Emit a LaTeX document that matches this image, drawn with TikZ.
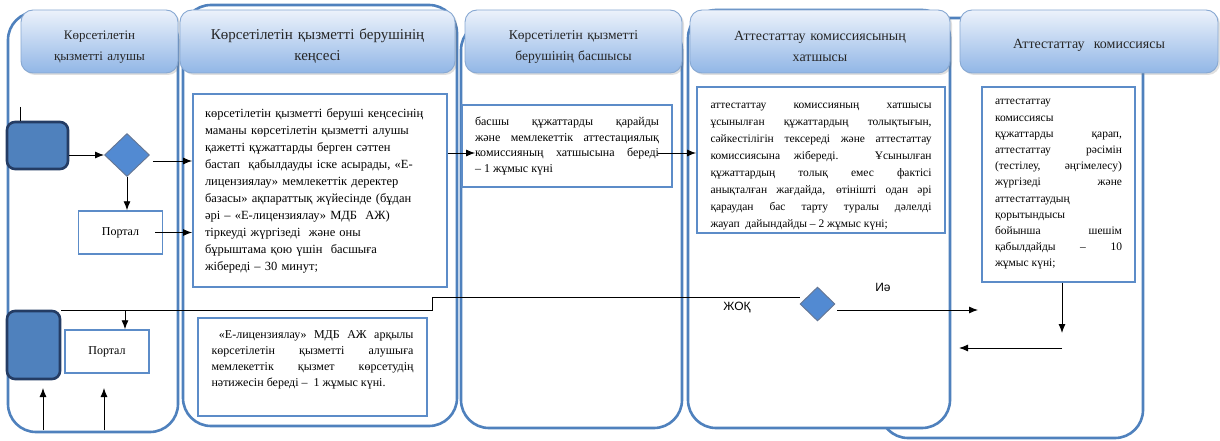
\documentclass[tikz,border=0pt]{standalone}
\usepackage{fontspec}
\setmainfont{Liberation Serif}
\newfontfamily\sansf{Liberation Sans}
\usetikzlibrary{shapes,shapes.geometric,arrows.meta,shadows}
\definecolor{laneblue}{RGB}{79,129,189}
\definecolor{boxblue}{RGB}{92,140,200}
\definecolor{headtop}{RGB}{236,242,251}
\definecolor{headbot}{RGB}{145,182,230}
\definecolor{headline}{RGB}{135,168,210}
\definecolor{darkblue}{RGB}{36,60,100}
\definecolor{decfill}{RGB}{82,138,210}

\begin{document}
\begin{tikzpicture}[x=1pt,y=-1pt,>={Latex[length=9pt,width=7pt]}]
        \tikzstyle{lane}=[draw=laneblue,line width=2.6pt,rounded corners=28pt,fill=white,inner sep=0pt]
        \tikzstyle{head}=[draw=headline,rounded corners=12pt,top color=headtop,bottom color=headbot,
                drop shadow={opacity=0.25,shadow xshift=2pt,shadow yshift=-2pt},align=center,inner sep=0pt,
                minimum height=63pt,text=black!85]
        \tikzstyle{txt}=[draw=boxblue,line width=1.8pt,fill=white,inner sep=0pt]
        \tikzstyle{portal}=[draw=boxblue,line width=1.5pt,fill=white,minimum width=84pt,minimum height=43pt,
                font=\fontsize{12}{14}\selectfont]
        \tikzstyle{start}=[draw=darkblue,line width=2.6pt,fill=laneblue,rounded corners=8pt]
        \tikzstyle{decide}=[diamond,draw=darkblue!70,fill=decfill,inner sep=0pt]
        \tikzstyle{every path}=[line width=0.9pt]
        \useasboundingbox (0,0) rectangle (1220,441);
        % swimlanes
        \node[lane,minimum width=170pt,minimum height=420pt] (lane1) at (93,222) {};
        \node[lane,minimum width=274pt,minimum height=421pt] (lane2) at (320,215.5) {};
        \node[lane,minimum width=221pt,minimum height=406pt] (lane3) at (571.5,225) {};
        \node[lane,minimum width=263pt,minimum height=420pt] (lane5) at (1011.5,228) {};
        \node[lane,minimum width=262pt,minimum height=418pt] (lane4) at (819,219) {};
        % headers
        \node[head,minimum width=157pt,text width=150pt,font=\fontsize{13}{21}\selectfont] (h1) at (99.5,41.5)
                {\rule{0pt}{20pt}Көрсетілетін\\қызметті алушы};
        \node[head,minimum width=275pt,text width=268pt,font=\fontsize{15}{21}\selectfont] (h2) at (317.5,41.5)
                {\rule{0pt}{20pt}Көрсетілетін қызметті берушінің\\кеңсесі};
        \node[head,minimum width=217pt,text width=210pt,font=\fontsize{13.5}{21}\selectfont] (h3) at (573.5,41.5)
                {\rule{0pt}{20pt}Көрсетілетін қызметті\\берушінің басшысы};
        \node[head,minimum width=260pt,text width=253pt,font=\fontsize{14}{21}\selectfont] (h4) at (820,41.5)
                {\rule{0pt}{20pt}Аттестаттау комиссиясының\\хатшысы};
        \node[head,minimum width=258pt,text width=250pt,font=\fontsize{14}{21}\selectfont] (h5) at (1089,41.5)
                {\rule{0pt}{18pt}Аттестаттау\ \ комиссиясы};
        % steps
        \node[txt,minimum width=254pt,minimum height=193pt,text width=230pt,align=left,
                font=\fontsize{12.5}{17}\selectfont] (b1) at (320,190.5)
                {көрсетілетін қызметті беруші кеңсесінің\\
                маманы көрсетілетін қызметті алушы\\
                қажетті құжаттарды берген сәттен\\
                бастап\ \ қабылдауды іске асырады, «Е-\\
                лицензиялау» мемлекеттік деректер\\
                базасы» ақпараттық жүйесінде (бұдан\\
                әрі – «Е-лицензиялау» МДБ\ \ АЖ)\\
                тіркеуді жүргізеді\ \ және оны\\
                бұрыштама қою үшін\ \ басшыға\\
                жібереді – 30 минут;};
        \node[txt,minimum width=210pt,minimum height=82pt,text width=184pt,align=justify,
                font=\fontsize{12}{15.7}\selectfont] (b2) at (567,146)
                {басшы құжаттарды қарайды\linebreak
                және мемлекеттік аттестациялық\linebreak
                комиссияның хатшысына береді\linebreak
                – 1 жұмыс күні};
        \node[txt,minimum width=248pt,minimum height=146pt,text width=221pt,align=justify,
                font=\fontsize{11.5}{17}\selectfont] (b3) at (821,160)
                {\rule{0pt}{18pt}аттестаттау комиссияның хатшысы\linebreak
                ұсынылған құжаттардың толықтығын,\linebreak
                сәйкестілігін тексереді және аттестаттау\linebreak
                комиссиясына жібереді. Ұсынылған\linebreak
                құжаттардың толық емес фактісі\linebreak
                анықталған жағдайда, өтінішті одан әрі\linebreak
                қараудан бас тарту туралы дәлелді\linebreak
                жауап\ \ дайындайды – 2 жұмыс күні;};
        \node[txt,minimum width=153pt,minimum height=195pt,text width=127pt,align=justify,
                font=\fontsize{11.5}{16.2}\selectfont] (b4) at (1058.5,184.5)
                {аттестаттау\newline
                комиссиясы\newline
                құжаттарды қарап,\linebreak
                аттестаттау рәсімін\linebreak
                (тестілеу, әңгімелесу)\linebreak
                жүргізеді және\linebreak
                аттестаттаудың\newline
                қорытындысы\newline
                бойынша шешім\linebreak
                қабылдайды – 10\linebreak
                жұмыс күні;};
        \node[txt,minimum width=229pt,minimum height=98pt,text width=202pt,align=justify,
                font=\fontsize{12}{16}\selectfont] (b5) at (312.5,367)
                {\ «Е-лицензиялау» МДБ АЖ арқылы\linebreak
                көрсетілетін қызметті алушыға\linebreak
                мемлекеттік қызмет көрсетудің\linebreak
                нәтижесін береді –\ \ 1 жұмыс күні.\\ \mbox{}};
        % portal, start, decisions
        \node[portal] (p1) at (120.5,232.5) {Портал};
        \node[portal] (p2) at (107,351.5) {Портал};
        \node[start,minimum width=61pt,minimum height=47pt] (s1) at (37.5,145.5) {};
        \node[start,minimum width=53pt,minimum height=68pt] (s2) at (33.5,345) {};
        \node[decide,minimum width=45pt,minimum height=43pt] (d1) at (127,155) {};
        \node[decide,minimum width=35pt,minimum height=34pt] (d2) at (817.5,304) {};
        \node[font=\sansf\fontsize{12}{14}\selectfont] (no) at (737,308) {ЖОҚ};
        \node[font=\sansf\fontsize{12}{14}\selectfont] (yes) at (883,287) {Иә};
        % connectors
        \coordinate (s1in) at (20,107);
        \coordinate (jog) at (432,310);
        \coordinate (yesend) at (978,310);
        \coordinate (b4down) at (1062,333);
        \coordinate (backend) at (959,348);
        \coordinate (in1) at (43,430);
        \coordinate (in2) at (104,430);
        \draw (s1in) -- (s1in |- s1.north);
        \draw[->] (s1.east |- d1.west) -- (d1.west);
        \draw[->] ([xshift=3pt,yshift=-6pt]d1.east) -- ([yshift=-6pt]d1.east -| b1.west);
        \draw[->] (d1.south) -- (d1.south |- p1.north);
        \draw[->] ([xshift=-8pt]p1.east) -- (p1.east -| b1.west);
        \draw[->] ([yshift=-7pt]b2.west -| b1.east) -- ([xshift=14pt,yshift=-7pt]b2.west);
        \draw[->] ([xshift=-15pt,yshift=-7pt]b2.east) -- ([yshift=-7pt]b2.east -| b3.west);
        \draw[->] (b4down |- b4.south) -- (b4down);
        \draw[->] (backend -| b4down) -- (backend);
        \draw[->] ([xshift=2pt,yshift=-6pt]d2.east) -- (yesend);
        \draw ([yshift=7pt]d2.west) -| (jog) -- (jog -| s2.east);
        \draw[->] (jog -| 125,0) -- (p2.north -| 125,0);
        \draw[->] (in1) -- ++(0,-42);
        \draw[->] (in2) -- ++(0,-42);
\end{tikzpicture}
\end{document}
